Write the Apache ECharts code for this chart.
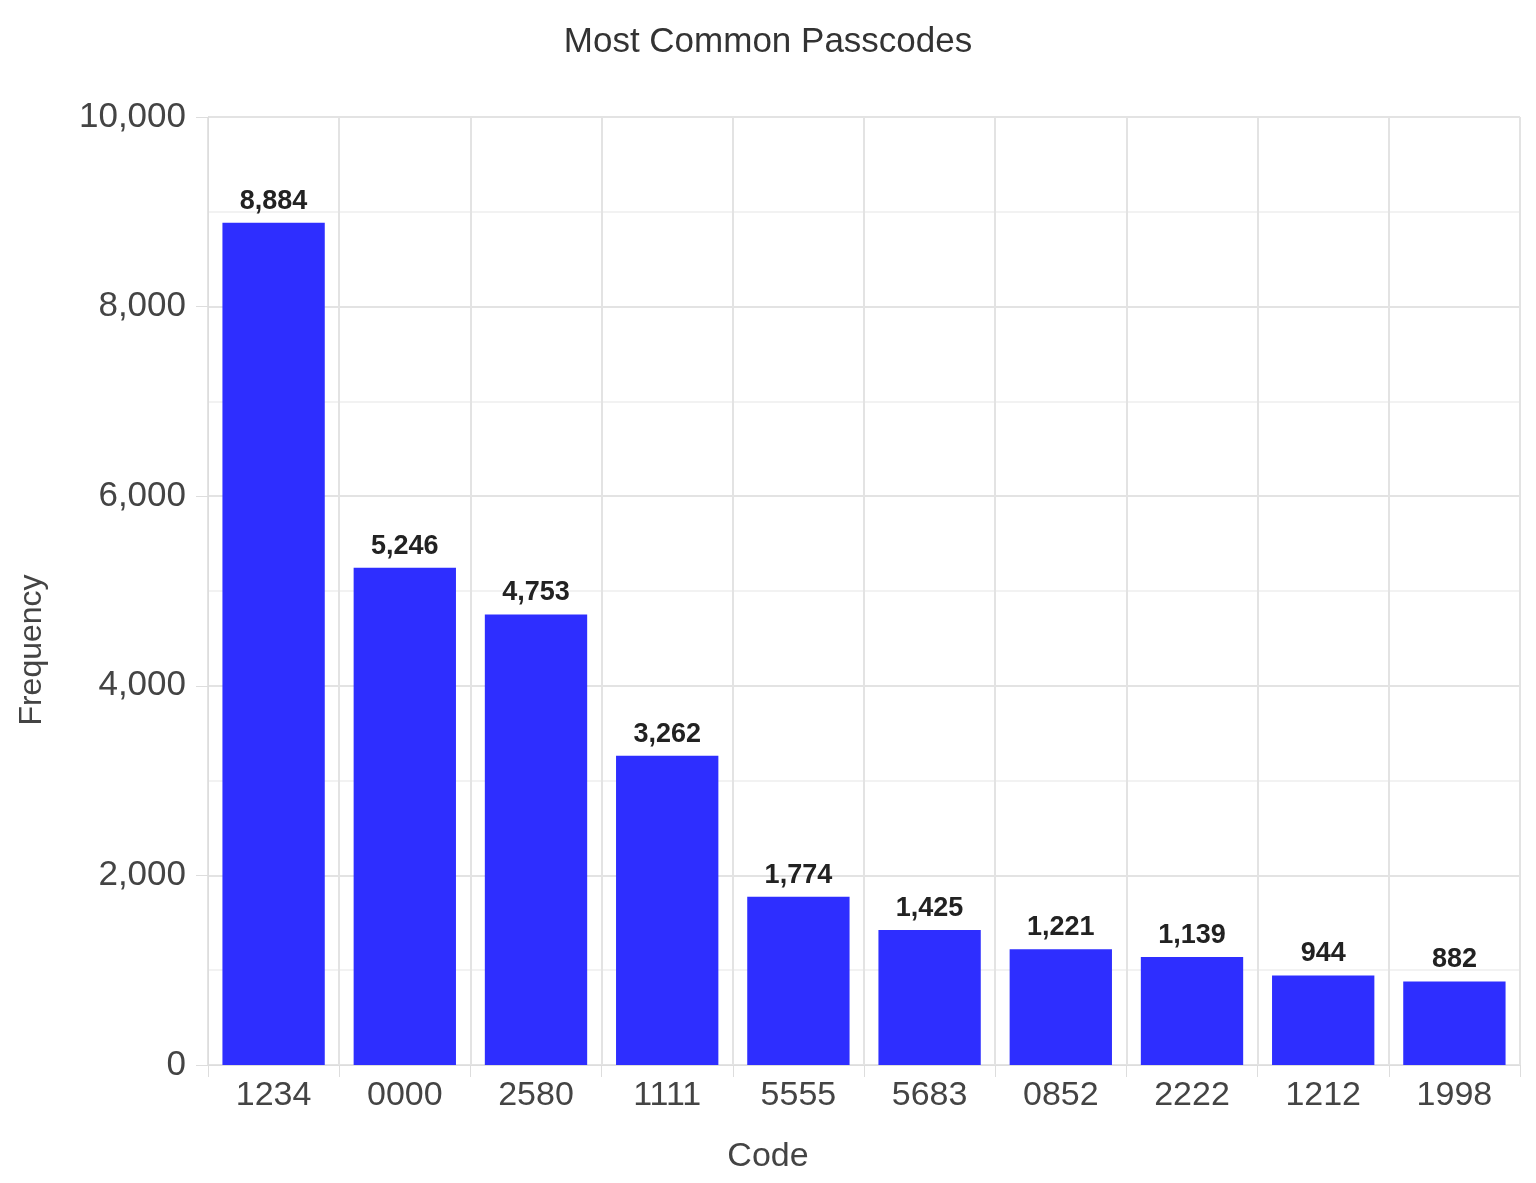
<!DOCTYPE html>
<html><head><meta charset="utf-8">
<script src="https://cdn.jsdelivr.net/npm/echarts@6/dist/echarts.min.js"></script>
<style>html,body{margin:0;padding:0;background:#fff}#c{width:1536px;height:1183px}</style>
</head><body><div id="c"></div>
<script>
const categories = ['1234','0000','2580','1111','5555','5683','0852','2222','1212','1998'];
const frequencies = [8884,5246,4753,3262,1774,1425,1221,1139,944,882];
const chart = echarts.init(document.getElementById('c'));
const ff = 'Liberation Sans';
chart.setOption({
  animation:false,
  title:{text:'Most Common Passcodes',left:'center',top:20,textStyle:{fontFamily:ff,fontSize:35,fontWeight:'normal',color:'#333'}},
  graphic:[
    {type:'text',left:'center',top:1140,style:{text:'Code',font:'34px "Liberation Sans"',fill:'#444'}},
    {type:'text',x:16,y:650,rotation:Math.PI/2,style:{text:'Frequency',font:'32px "Liberation Sans"',fill:'#444',align:'center',verticalAlign:'top'}}
  ],
  grid:{left:208,right:16,top:117,bottom:118},
  xAxis:{type:'category',data:categories,
    axisLine:{lineStyle:{color:'#ddd'}},axisTick:{show:true,length:12,lineStyle:{color:'#ddd'}},
    axisLabel:{fontFamily:ff,fontSize:34,color:'#444',margin:14},
    splitLine:{show:true,lineStyle:{color:'#e3e3e3',width:2}}},
  yAxis:{type:'value',min:0,max:10000,interval:2000,
    axisLine:{show:true,lineStyle:{color:'#ddd'}},axisTick:{show:true,length:12,lineStyle:{color:'#ddd'}},
    axisLabel:{fontFamily:ff,fontSize:35,color:'#444',margin:22,
      formatter:v=>v.toLocaleString('en-US')},
    splitLine:{lineStyle:{color:'#e3e3e3',width:2}},
    minorTick:{show:false,splitNumber:2},minorSplitLine:{show:true,lineStyle:{color:'#f2f2f2',width:2}}},
  series:[{type:'bar',data:frequencies,barCategoryGap:'22%',itemStyle:{color:'#2e2eff'},
    label:{show:true,position:'top',distance:8,fontFamily:ff,fontSize:27,fontWeight:'bold',color:'#222',
      formatter:p=>p.value.toLocaleString('en-US')}}]
});
</script></body></html>
